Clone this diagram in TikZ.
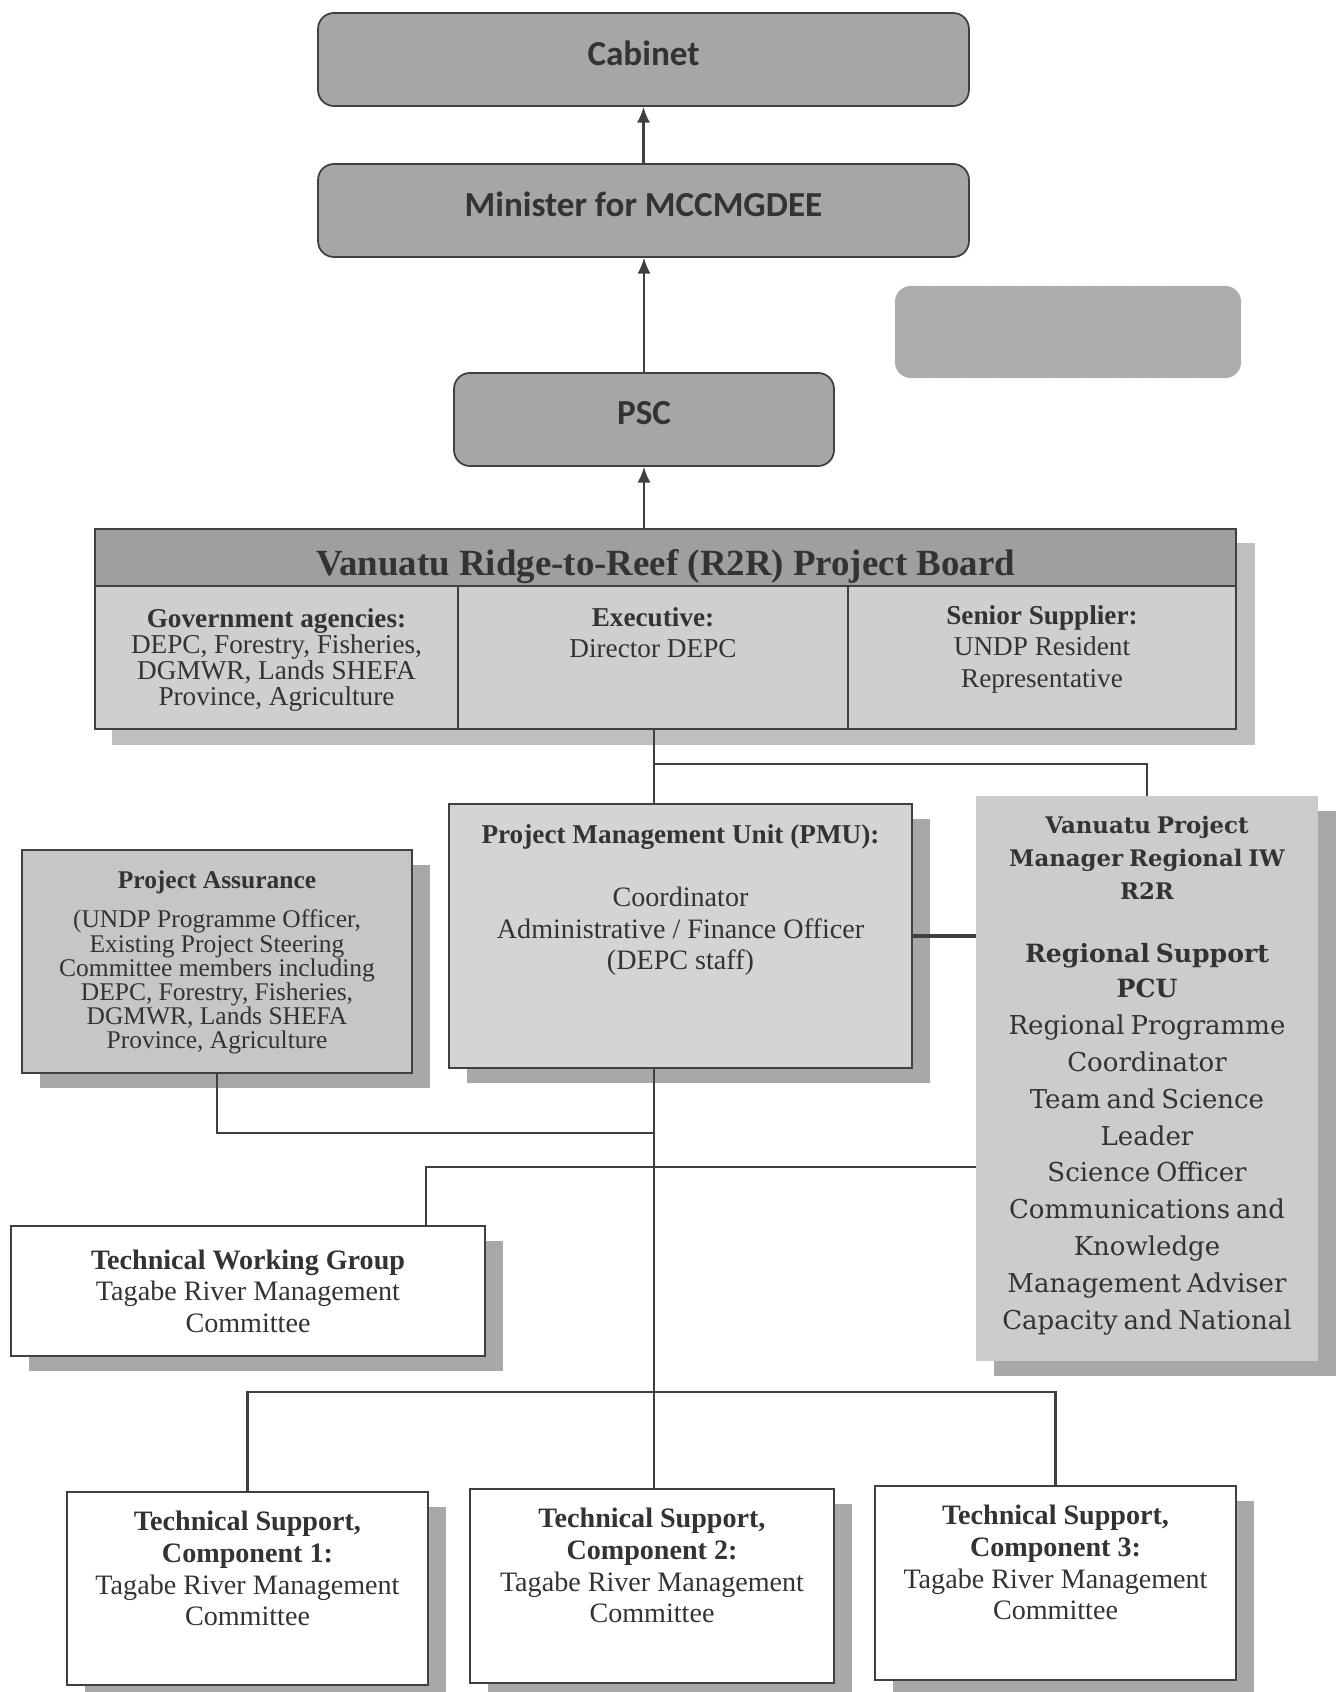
\documentclass[tikz,border=0pt]{standalone}
\usepackage{fontspec}
\setmainfont{Liberation Serif}
\newfontfamily\calib{Carlito}
\newfontfamily\camb{DejaVu Serif}
\usetikzlibrary{arrows.meta,positioning,shadows,backgrounds}
\lineskiplimit=-100pt

\begin{document}
\begin{tikzpicture}[
  x=0.02cm, y=-0.02cm,
  >={Latex[length=9pt,width=7.5pt]},
  every node/.style={align=center, text=black!80},
  topbox/.style={draw=black!75, line width=1pt, rounded corners=9pt, fill=gray!70,
    text depth=0.25cm, font=\calib\bfseries\fontsize{20}{24}\selectfont},
  flat/.style={draw=black!75, line width=1.1pt},
  shadowbox/.style={drop shadow={shadow xshift=0.36cm, shadow yshift=-0.3cm, fill=gray!68, opacity=1}},
  celltext/.style={inner sep=0pt, anchor=north},
  link/.style={draw=black!75, line width=1.25pt}
]
\useasboundingbox (0,0) rectangle (1344,1692);

% Chaine du haut
\node[topbox, minimum width=13.02cm, minimum height=1.86cm] (cabinet) at (643.5,59.5) {Cabinet};
\node[topbox, minimum width=13.02cm, minimum height=1.86cm] (minister) at (643.5,210.5) {Minister for MCCMGDEE};
\node[fill=gray!65, draw=gray!55, densely dotted, rounded corners=9pt, minimum width=6.92cm, minimum height=1.84cm] (blob) at (1068,332) {};
\node[topbox, minimum width=7.6cm, minimum height=1.86cm] (psc) at (644,419.5) {PSC};

% Project Board
\node[flat, fill=gray!75, minimum width=22.82cm, minimum height=1.14cm, inner ysep=0pt, text height=0.9cm, text depth=0.18cm,
  font=\bfseries\fontsize{21}{24}\selectfont] (bhead) at (665.5,557.5) {Vanuatu Ridge-to-Reef (R2R) Project Board};
\node[flat, fill=gray!38, minimum width=7.26cm, minimum height=2.86cm] (gov) at (276.5,657.5) {};
\node[flat, fill=gray!38, minimum width=7.8cm, minimum height=2.86cm] (exe) at (653,657.5) {};
\node[flat, fill=gray!38, minimum width=7.76cm, minimum height=2.86cm] (sup) at (1042,657.5) {};
\node[celltext, below=0.46cm of gov.north, font=\fontsize{15.5}{14.9}\selectfont] (govtxt) {\textbf{Government agencies:}\\DEPC, Forestry, Fisheries,\\DGMWR, Lands SHEFA\\Province, Agriculture};
\node[celltext, below=0.44cm of exe.north, font=\fontsize{15.5}{18}\selectfont] (exetxt) {\textbf{Executive:}\\Director DEPC};
\node[celltext, below=0.40cm of sup.north, font=\fontsize{15.5}{18}\selectfont] (suptxt) {\textbf{Senior Supplier:}\\UNDP Resident\\Representative};

% Unites
\node[flat, fill=gray!45, shadowbox, minimum width=7.8cm, minimum height=4.46cm] (pa) at (217,961.5) {};
\node[celltext, below=0.42cm of pa.north, font=\fontsize{14.5}{13.7}\selectfont] (patxt) {\textbf{Project Assurance}\\[9pt](UNDP Programme Officer,\\Existing Project Steering\\Committee members including\\DEPC, Forestry, Fisheries,\\DGMWR, Lands SHEFA\\Province, Agriculture};
\node[flat, fill=gray!34, shadowbox, minimum width=9.26cm, minimum height=5.28cm] (pmu) at (680.5,936) {};
\node[celltext, below=0.42cm of pmu.north, font=\fontsize{16}{18}\selectfont] (pmutxt) {\textbf{\fontsize{15.5}{18}\selectfont Project Management Unit (PMU):}\\[18pt]Coordinator\\Administrative / Finance Officer\\(DEPC staff)};
\node[fill=gray!40, shadowbox, minimum width=6.84cm, minimum height=11.3cm] (rbox) at (1147,1078.5) {};
\node[celltext, below=0.40cm of rbox.north, text width=6.6cm, font=\camb] (rtxt) {%
  {\fontsize{13}{18.7}\selectfont\bfseries Vanuatu Project\\Manager Regional IW\\R2R\par}
  \vspace{16pt}
  {\fontsize{14.3}{20}\selectfont\bfseries Regional Support\\PCU\par}
  {\fontsize{14.8}{21}\selectfont Regional Programme\\Coordinator\\Team and Science\\Leader\\Science Officer\\Communications and\\Knowledge\\Management Adviser\\Capacity and National\par}};
\node[flat, fill=white, shadowbox, minimum width=9.48cm, minimum height=2.6cm, font=\fontsize{16}{18}\selectfont] (twg) at (248,1291) {\textbf{Technical Working Group}\\Tagabe River Management\\Committee};

% Composantes techniques
\node[flat, fill=white, shadowbox, minimum width=7.22cm, minimum height=3.86cm] (comp1) at (247.5,1588.5) {};
\node[flat, fill=white, shadowbox, minimum width=7.28cm, minimum height=3.88cm] (comp2) at (652,1586) {};
\node[flat, fill=white, shadowbox, minimum width=7.22cm, minimum height=3.88cm] (comp3) at (1055.5,1583) {};
\node[celltext, below=0.40cm of comp1.north, font=\fontsize{16}{18}\selectfont] (c1txt) {\textbf{Technical Support,}\\\textbf{Component 1:}\\Tagabe River Management\\Committee};
\node[celltext, below=0.40cm of comp2.north, font=\fontsize{16}{18}\selectfont] (c2txt) {\textbf{Technical Support,}\\\textbf{Component 2:}\\Tagabe River Management\\Committee};
\node[celltext, below=0.40cm of comp3.north, font=\fontsize{16}{18}\selectfont] (c3txt) {\textbf{Technical Support,}\\\textbf{Component 3:}\\Tagabe River Management\\Committee};

% Points de jonction
\coordinate (j1) at (654,764);
\coordinate (j2) at (654,1133);
\coordinate (j3) at (426,1167);
\coordinate (j4) at (654,1392);

% Fleches vers le haut
\draw[->, link] (minister) -- (cabinet);
\draw[->, link] (psc.north) -- (psc.north |- minister.south);
\draw[->, link] (bhead.north -| psc) -- (psc);

% Liaisons
\draw[link] (exe.south -| j1) -- (pmu.north -| j1);
\draw[link] (j1) -| (rbox.north);
\draw[draw=black!75, line width=2.4pt] (pmu.east) -- (pmu.east -| rbox.west);
\draw[link] (pmu.south -| j1) -- (comp2.north -| j1);
\draw[link] (pa.south) |- (j2);
\draw[link] (rbox.west |- j3) -- (j3) -- (j3 |- twg.north);
\draw[link] (comp1.north) -- (comp1.north |- j4) -- (comp3.north |- j4) -- (comp3.north);

% Ombre du board
\begin{scope}[on background layer]
  \fill[gray!50] ([shift={(18,15)}]bhead.north west) rectangle ([shift={(18,15)}]sup.south east);
\end{scope}

\end{tikzpicture}
\end{document}
